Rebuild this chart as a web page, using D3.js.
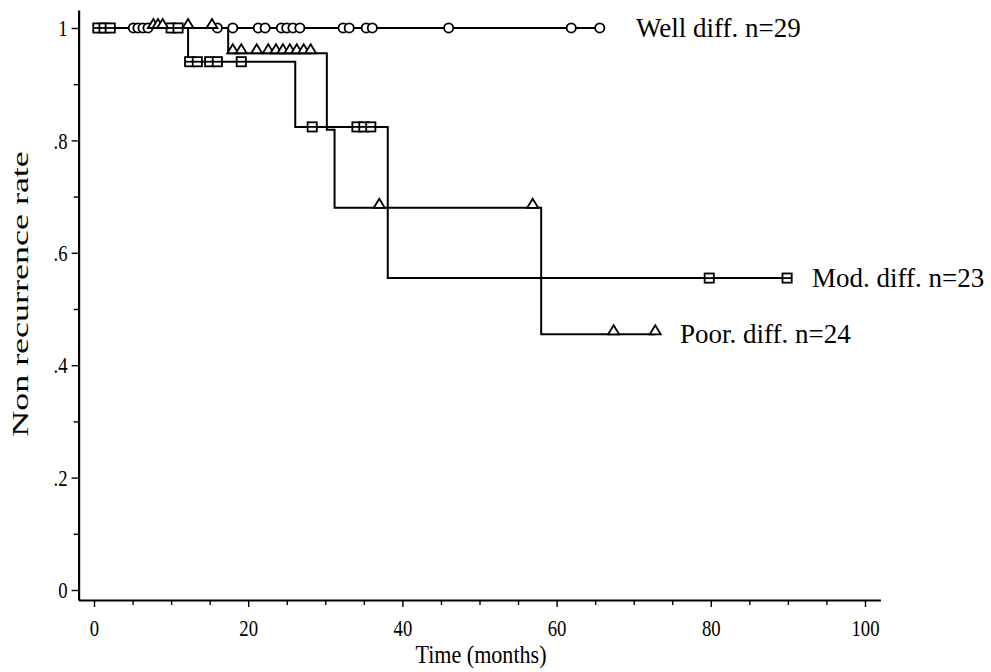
<!DOCTYPE html>
<html><head><meta charset="utf-8">
<script src="https://cdn.jsdelivr.net/npm/d3@7"></script>
<style>body{margin:0;background:#fff}text{font-family:"Liberation Serif","Times New Roman",serif;fill:#000}</style>
</head><body><svg id="c" width="991" height="672"></svg>
<script>
// Kaplan-Meier step data (months, survival)
const wellSteps = [[0,1]];
const wellEnd = 65.6;
const wellCensor = [5.1,5.7,6.35,7.0,16.0,18.0,21.3,22.2,24.3,25.0,25.8,26.7,32.3,33.1,35.3,36.1,46.0,61.9,65.6];

const modSteps = [[0,1],[12.2,0.94],[26.1,0.824],[38.1,0.555]];
const modEnd = 89.9;
const modCensor = [0.5,1.3,2.1,10.0,10.9,12.4,13.4,15.0,16.0,19.1,28.3,34.1,35.0,35.9,79.8,89.9];

const poorSteps = [[0,1],[17.4,0.955],[30.2,0.819],[31.2,0.68],[58.0,0.455]];
const poorEnd = 72.8;
const poorCensor = [7.7,8.3,8.9,12.2,15.3,18.0,19.1,21.1,22.6,23.6,24.5,25.4,26.3,27.2,28.1,37.0,56.9,67.4,72.8];

const xTicks = [0,20,40,60,80,100];
const yTicks = [0,0.2,0.4,0.6,0.8,1];
const yTickLabels = ["0",".2",".4",".6",".8","1"];
const labels = ["Well diff. n=29","Mod. diff. n=23","Poor. diff. n=24"];

const svg = d3.select("#c");
const x = d3.scaleLinear().domain([-2,102]).range([78.6,880.4]);
const y = d3.scaleLinear().domain([-0.0178,1.032]).range([600,10]);
const sq = 0.78; // horizontal squeeze of tick digits

// axes
const gx = svg.append("g").attr("transform","translate(0,600)")
  .call(d3.axisBottom(x).tickValues(d3.range(0,101,5)).tickSizeOuter(0).tickFormat(""));
gx.selectAll(".tick line").attr("y2",d=>d%20===0?7:5).attr("stroke-width",1.4);
gx.select(".domain").attr("stroke-width",2.2);
const gx2 = svg.append("g").attr("transform","translate(0,600)")
  .call(d3.axisBottom(x).tickValues(xTicks).tickSize(0).tickPadding(19).tickFormat(d3.format("d")));
gx2.select(".domain").remove();
gx2.selectAll("text").style("font-size","24px").attr("font-family","Liberation Serif")
  .attr("transform",`scale(${sq},1)`);

const gy = svg.append("g").attr("transform","translate(78.6,0)")
  .call(d3.axisLeft(y).tickValues(d3.range(0,1.01,0.1)).tickSizeOuter(0).tickFormat(""));
gy.selectAll(".tick line").attr("x2",(d,i)=>i%2===0?-7:-5).attr("stroke-width",1.4);
gy.select(".domain").attr("stroke-width",2.2);
const gy2 = svg.append("g").attr("transform","translate(78.6,0)")
  .call(d3.axisLeft(y).tickValues(yTicks).tickSize(0).tickPadding(11).tickFormat((d,i)=>yTickLabels[i]));
gy2.select(".domain").remove();
gy2.selectAll("text").style("font-size","24px").attr("font-family","Liberation Serif")
  .attr("x",-11/sq).attr("transform",`scale(${sq},1)`);

svg.append("text").attr("transform","translate(481,663) scale(0.85,1)").attr("text-anchor","middle")
  .attr("font-size",26).text("Time (months)");
svg.append("text").attr("transform","translate(28,294) rotate(-90) scale(1.5,1)").attr("text-anchor","middle")
  .attr("font-size",24).text("Non recurrence rate");

function stepPath(steps,end){
  let pts=[];
  steps.forEach((s,i)=>{
    if(i>0) pts.push([s[0],steps[i-1][1]]);
    pts.push(s);
  });
  pts.push([end,steps[steps.length-1][1]]);
  return d3.line().x(d=>x(d[0])).y(d=>y(d[1]))(pts);
}
function valAt(steps,t){let v=steps[0][1];steps.forEach(s=>{if(s[0]<=t)v=s[1];});return v;}

const lineG = svg.append("g").attr("fill","none").attr("stroke","#000").attr("stroke-width",2);
lineG.append("path").attr("d",stepPath(wellSteps,wellEnd));
lineG.append("path").attr("d",stepPath(modSteps,modEnd));
lineG.append("path").attr("d",stepPath(poorSteps,poorEnd));

const mk = svg.append("g").attr("fill","#fff").attr("stroke","#000").attr("stroke-width",1.8);
wellCensor.forEach(t=>{
  mk.append("ellipse").attr("cx",x(t)).attr("cy",y(valAt(wellSteps,t))).attr("rx",4.6).attr("ry",4.6);
});
modCensor.forEach(t=>{
  const cx=x(t), cy=y(valAt(modSteps,t));
  mk.append("rect").attr("x",cx-4.6).attr("y",cy-4.6).attr("width",9.2).attr("height",9.2);
  mk.append("line").attr("x1",cx-4.6).attr("x2",cx+4.6).attr("y1",cy).attr("y2",cy);
});
poorCensor.forEach(t=>{
  const cx=x(t), cy=y(valAt(poorSteps,t));
  mk.append("path").attr("d",`M${cx-5.5},${cy}L${cx},${cy-9}L${cx+5.5},${cy}Z`);
});

svg.append("text").attr("x",636).attr("y",y(1)+9).attr("font-size",27).text(labels[0]);
svg.append("text").attr("x",812).attr("y",y(0.555)+9).attr("font-size",27).text(labels[1]);
svg.append("text").attr("x",680).attr("y",y(0.455)+9).attr("font-size",27).text(labels[2]);
</script></body></html>
